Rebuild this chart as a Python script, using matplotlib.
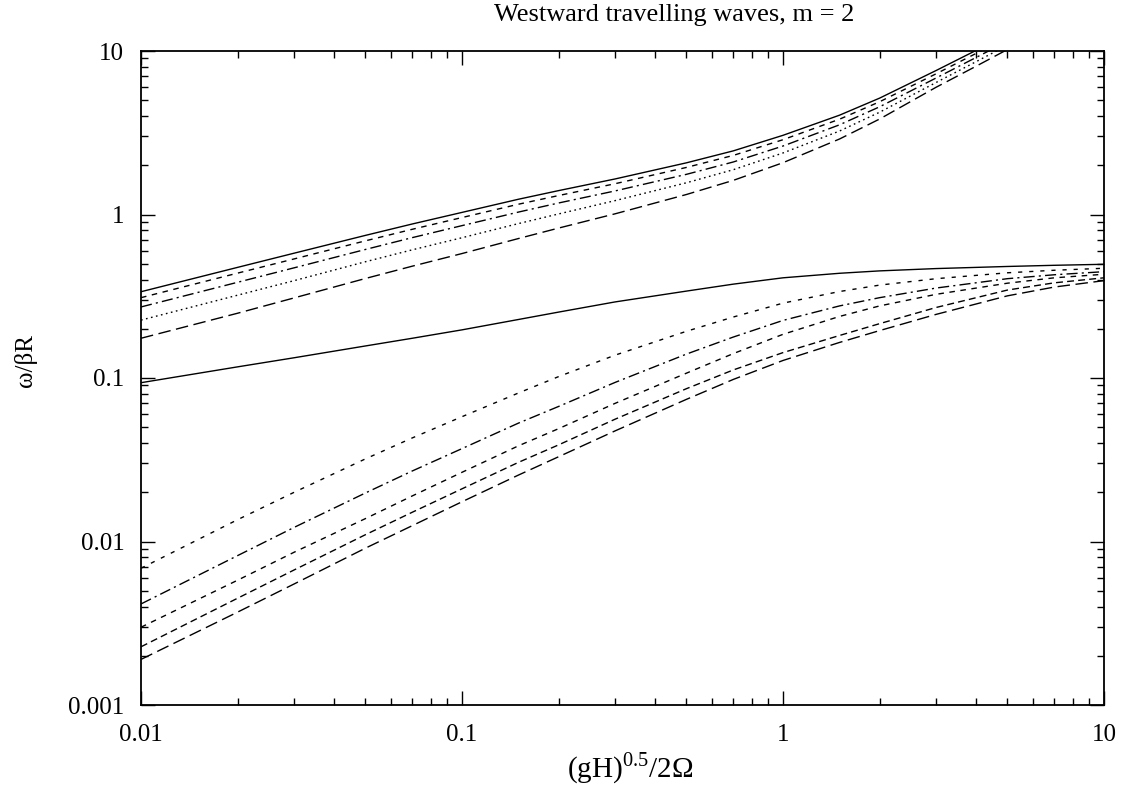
import numpy as np
import matplotlib
matplotlib.use('Agg')
import matplotlib.pyplot as plt
from matplotlib.ticker import FuncFormatter, LogLocator, NullFormatter

plt.rcParams['font.family'] = ['Liberation Serif', 'DejaVu Serif']
plt.rcParams['mathtext.fontset'] = 'custom'
plt.rcParams['mathtext.rm'] = 'Liberation Serif'

# gravity-wave branch (upper group)
x_up = [0.01, 0.02, 0.03, 0.05, 0.07, 0.1, 0.15, 0.2, 0.3, 0.5, 0.7, 1, 1.5, 2, 3, 4, 5]
up1 = [0.337, 0.475, 0.58, 0.745, 0.875, 1.03, 1.24, 1.40, 1.65, 2.07, 2.45, 3.05, 4.05, 5.15, 7.6, 10.1, 12.6]
up2 = [0.310, 0.438, 0.535, 0.690, 0.812, 0.958, 1.156, 1.306, 1.543, 1.940, 2.298, 2.867, 3.827, 4.893, 7.258, 9.676, 12.10]
up3 = [0.272, 0.385, 0.472, 0.611, 0.722, 0.855, 1.035, 1.176, 1.394, 1.760, 2.095, 2.623, 3.536, 4.558, 6.84, 9.141, 11.47]
up4 = [0.226, 0.321, 0.394, 0.514, 0.608, 0.721, 0.880, 1.008, 1.216, 1.563, 1.879, 2.379, 3.24, 4.223, 6.422, 8.615, 10.84]
up5 = [0.175, 0.249, 0.309, 0.406, 0.483, 0.577, 0.713, 0.826, 1.010, 1.325, 1.617, 2.074, 2.896, 3.837, 6.004, 8.08, 10.21]

# Rossby / mixed branch (lower group)
x_lo = [0.01, 0.02, 0.03, 0.05, 0.07, 0.1, 0.15, 0.2, 0.3, 0.5, 0.7, 1, 1.5, 2, 3, 5, 7, 10]
lo1 = [0.0936, 0.117, 0.133, 0.157, 0.175, 0.197, 0.228, 0.253, 0.292, 0.34, 0.375, 0.41, 0.437, 0.452, 0.467, 0.481, 0.489, 0.496]
lo2 = [0.00686, 0.0136, 0.0200, 0.0320, 0.0430, 0.058, 0.081, 0.102, 0.138, 0.193, 0.236, 0.287, 0.338, 0.37, 0.405, 0.44, 0.456, 0.469]
lo3 = [0.00415, 0.0082, 0.0122, 0.0198, 0.0270, 0.037, 0.053, 0.067, 0.094, 0.14, 0.178, 0.225, 0.276, 0.31, 0.355, 0.405, 0.428, 0.447]
lo4 = [0.00299, 0.0058, 0.0086, 0.0138, 0.0190, 0.0265, 0.0385, 0.049, 0.070, 0.107, 0.141, 0.185, 0.238, 0.276, 0.325, 0.38, 0.41, 0.431]
lo5 = [0.00227, 0.0045, 0.0067, 0.0110, 0.0151, 0.021, 0.0305, 0.039, 0.056, 0.086, 0.112, 0.143, 0.182, 0.215, 0.27, 0.345, 0.382, 0.410]
lo6 = [0.00190, 0.0037, 0.0055, 0.0091, 0.0125, 0.0175, 0.0255, 0.033, 0.0475, 0.074, 0.098, 0.128, 0.165, 0.195, 0.245, 0.318, 0.36, 0.394]

styles = {
    'solid': None,
    'short': (4, 4),
    'sparse': (3, 5),
    'med': (5, 3),
    'dashdot': (8, 3, 1.5, 3),
    'dot': (1.2, 2.5),
    'long': (9, 4),
}

fig = plt.figure(figsize=(11.21, 7.91), dpi=100)
ax = fig.add_axes([141/1121, 1-705/791, (1104-141)/1121, (705-51)/791])

def draw(x, y, st):
    line, = ax.plot(x, y, color='black', lw=1.0)
    if styles[st] is not None:
        line.set_dashes(styles[st])

draw(x_up, up1, 'solid')
draw(x_up, up2, 'short')
draw(x_up, up3, 'dashdot')
draw(x_up, up4, 'dot')
draw(x_up, up5, 'long')

draw(x_lo, lo1, 'solid')
draw(x_lo, lo2, 'sparse')
draw(x_lo, lo3, 'dashdot')
draw(x_lo, lo4, 'short')
draw(x_lo, lo5, 'med')
draw(x_lo, lo6, 'long')

ax.set_xscale('log')
ax.set_yscale('log')
ax.set_xlim(0.01, 10)
ax.set_ylim(0.001, 10)

fmt = FuncFormatter(lambda v, p: '%g' % v)
ax.xaxis.set_major_formatter(fmt)
ax.yaxis.set_major_formatter(fmt)
ax.xaxis.set_minor_formatter(NullFormatter())
ax.yaxis.set_minor_formatter(NullFormatter())
ax.xaxis.set_minor_locator(LogLocator(base=10, subs=np.arange(2, 10)))
ax.yaxis.set_minor_locator(LogLocator(base=10, subs=np.arange(2, 10)))

ax.tick_params(which='both', direction='in', top=True, right=True, labelsize=18, width=1.0)
ax.tick_params(which='major', length=10)
ax.tick_params(which='minor', length=5)
ax.tick_params(axis='x', pad=14)
ax.tick_params(axis='y', pad=12)
for s in ax.spines.values():
    s.set_linewidth(1.3)

fig.text(674/1121, 1-15/791, 'Westward travelling waves, m = 2', ha='center', va='center', fontsize=19)
fig.text(630/1121, 1-768/791, r'(gH)$^{0.5}$/2$\Omega$', ha='center', va='center', fontsize=21)
fig.text(25/1121, 1-360/791, 'ω/βR', ha='center', va='center', rotation=90, fontsize=18)

fig.savefig('out.png', dpi=100)
